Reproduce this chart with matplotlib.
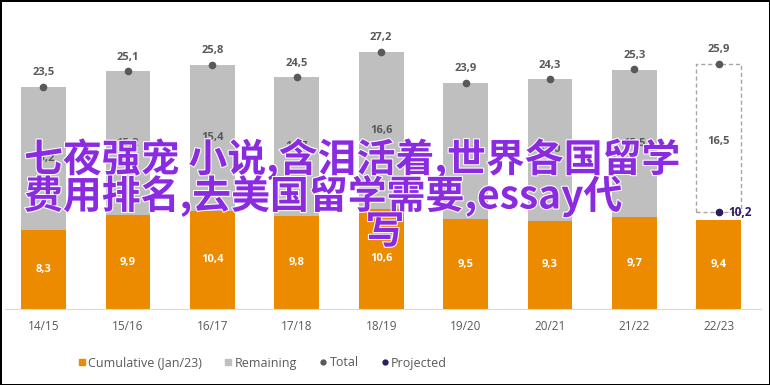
import matplotlib.pyplot as plt
import matplotlib.patheffects as pe
from matplotlib.lines import Line2D

seasons = ["14/15", "15/16", "16/17", "17/18", "18/19", "19/20", "20/21", "21/22", "22/23"]
cumulative = [8.3, 9.9, 10.4, 9.8, 10.6, 9.5, 9.3, 9.7, 9.4]
remaining = [15.2, 15.2, 15.4, 14.7, 16.6, 14.4, 15.0, 15.5, 16.5]
total = [23.5, 25.1, 25.8, 24.5, 27.2, 23.9, 24.3, 25.3, 25.9]
projected = 10.2

orange = "#EC8B00"
grey = "#BFBFBF"
dark = "#595959"
navy = "#2E1A63"
purple = "#8A2BE2"

def fmt(v):
    return f"{v:.1f}".replace(".", ",")

fig = plt.figure(figsize=(7.7, 3.85), dpi=100)
fig.patch.set_edgecolor("black")
fig.patch.set_linewidth(2)
ax = fig.add_axes([5 / 770, 76 / 385, 756 / 770, 284 / 385])

x = list(range(len(seasons)))
w = 0.53
n = len(seasons) - 1

ax.bar(x, cumulative, width=w, color=orange, zorder=2)
ax.bar(x[:n], remaining[:n], width=w, bottom=cumulative[:n], color=grey, zorder=2)
# projected season: dashed outline only
ax.bar(x[n], total[n] - projected, width=w, bottom=projected, fill=False,
       edgecolor="#A6A6A6", linestyle=(0, (3, 2)), linewidth=1, zorder=2)

ax.plot(x, total, "o", color=dark, markersize=4.5, zorder=3)
ax.plot(x[n], projected, "o", color=navy, markersize=4.5, zorder=3)

lab = dict(ha="center", va="center", fontsize=8, fontweight="bold", family="Open Sans")
for i in x:
    ax.annotate(fmt(total[i]), (i, total[i]), xytext=(0, 10), textcoords="offset points",
                color=dark, **lab)
    ax.text(i, cumulative[i] + remaining[i] / 2, fmt(remaining[i]), color=dark, zorder=3, **lab)
    ax.text(i, cumulative[i] / 2, fmt(cumulative[i]), color="white", zorder=3, **lab)
ax.annotate(fmt(projected), (x[n], projected), xytext=(7, 0), textcoords="offset points",
            color=navy, ha="left", va="center", fontsize=8.5, fontweight="bold", family="Open Sans")

ax.set_xlim(-0.456, 8.5)
ax.set_ylim(0, 30)
ax.set_xticks(x)
ax.set_xticklabels(seasons, family="Open Sans", fontsize=8.5, color=dark)
ax.tick_params(axis="x", length=0, pad=8)
ax.set_yticks([])
for s in ["top", "left", "right"]:
    ax.spines[s].set_visible(False)
ax.spines["bottom"].set_color("#D9D9D9")

handles = [
    Line2D([], [], marker="s", color=orange, linestyle="none", markersize=4),
    Line2D([], [], marker="s", color=grey, linestyle="none", markersize=4),
    Line2D([], [], marker="o", color=dark, linestyle="none", markersize=3.5),
    Line2D([], [], marker="o", color=navy, linestyle="none", markersize=3.5),
]
fig.legend(handles, ["Cumulative (Jan/23)", "Remaining", "Total", "Projected"],
           loc="center left", bbox_to_anchor=(72 / 770, 22 / 385), ncol=4, frameon=False,
           prop={"family": "Open Sans", "size": 9}, labelcolor=dark,
           handlelength=0.6, handletextpad=0.2, columnspacing=1.8, borderpad=0)

title = dict(color=purple, fontsize=28, fontweight="bold",
             family=["Noto Sans CJK SC", "DejaVu Sans"], va="center",
             path_effects=[pe.withStroke(linewidth=1.5, foreground="white")])
fig.text(24 / 770, 1 - 159 / 385, "七夜强宠 小说,含泪活着,世界各国留学", ha="left", **title)
fig.text(24 / 770, 1 - 196 / 385, "费用排名,去美国留学需要,essay代", ha="left", **title)
fig.text(385 / 770, 1 - 232 / 385, "写", ha="center", **title)

fig.savefig("out.png", dpi=100)
